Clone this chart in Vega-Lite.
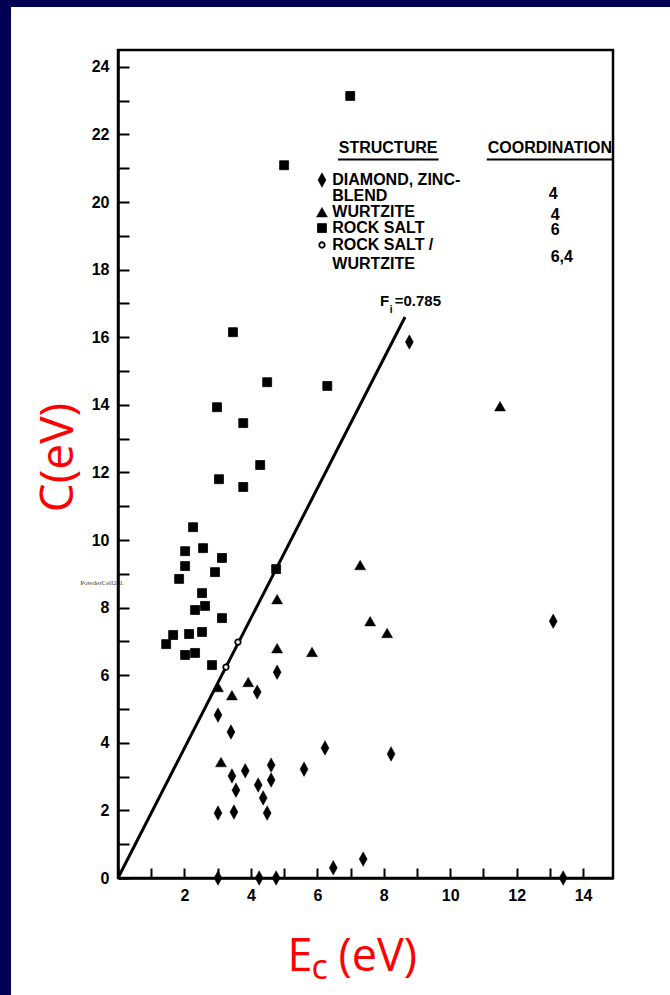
{
  "$schema": "https://vega.github.io/schema/vega-lite/v6.json",
  "width": 495,
  "height": 828,
  "autosize": {"type": "none"},
  "padding": {"left": 118, "top": 50, "right": 57, "bottom": 117},
  "background": "white",
  "config": {
    "view": {"stroke": "black", "strokeWidth": 2.5},
    "axis": {
      "domainColor": "black", "domainWidth": 2.5, "tickColor": "black", "tickWidth": 2,
      "grid": false, "labelFont": "Liberation Sans", "labelFontWeight": "bold", "labelFontSize": 16,
      "labelColor": "black", "labelFlush": false, "labelOverlap": false
    }
  },
  "datasets": {
    "frame": [
      {"x": -4, "x2": -3.22, "y": -4, "y2": 27},
      {"x": -4, "x2": 17, "y": 25.77, "y2": 27}
    ],
    "fit": [{"x": 0, "y": 0}, {"x": 8.64, "y": 16.6}],
    "underlines": [
      {"x": 6.62, "x2": 9.65, "y": 21.26},
      {"x": 11.1, "x2": 14.87, "y": 21.26}
    ],
    "points": [
      {"x": 6.99, "y": 23.14, "structure": "Rock salt"},
      {"x": 5.0, "y": 21.09, "structure": "Rock salt"},
      {"x": 3.46, "y": 16.15, "structure": "Rock salt"},
      {"x": 4.49, "y": 14.67, "structure": "Rock salt"},
      {"x": 6.3, "y": 14.56, "structure": "Rock salt"},
      {"x": 2.98, "y": 13.93, "structure": "Rock salt"},
      {"x": 3.77, "y": 13.46, "structure": "Rock salt"},
      {"x": 4.28, "y": 12.22, "structure": "Rock salt"},
      {"x": 3.04, "y": 11.8, "structure": "Rock salt"},
      {"x": 3.77, "y": 11.57, "structure": "Rock salt"},
      {"x": 2.26, "y": 10.38, "structure": "Rock salt"},
      {"x": 2.02, "y": 9.67, "structure": "Rock salt"},
      {"x": 2.56, "y": 9.76, "structure": "Rock salt"},
      {"x": 2.02, "y": 9.23, "structure": "Rock salt"},
      {"x": 3.13, "y": 9.47, "structure": "Rock salt"},
      {"x": 1.84, "y": 8.85, "structure": "Rock salt"},
      {"x": 2.92, "y": 9.05, "structure": "Rock salt"},
      {"x": 4.76, "y": 9.14, "structure": "Rock salt"},
      {"x": 2.53, "y": 8.43, "structure": "Rock salt"},
      {"x": 2.32, "y": 7.93, "structure": "Rock salt"},
      {"x": 2.62, "y": 8.05, "structure": "Rock salt"},
      {"x": 3.13, "y": 7.69, "structure": "Rock salt"},
      {"x": 1.45, "y": 6.92, "structure": "Rock salt"},
      {"x": 1.66, "y": 7.19, "structure": "Rock salt"},
      {"x": 2.14, "y": 7.22, "structure": "Rock salt"},
      {"x": 2.53, "y": 7.28, "structure": "Rock salt"},
      {"x": 2.02, "y": 6.6, "structure": "Rock salt"},
      {"x": 2.32, "y": 6.66, "structure": "Rock salt"},
      {"x": 2.83, "y": 6.3, "structure": "Rock salt"},
      {"x": 3.61, "y": 6.98, "structure": "Rock salt / wurtzite"},
      {"x": 3.25, "y": 6.24, "structure": "Rock salt / wurtzite"},
      {"x": 4.79, "y": 8.25, "structure": "Wurtzite"},
      {"x": 4.79, "y": 6.8, "structure": "Wurtzite"},
      {"x": 5.84, "y": 6.69, "structure": "Wurtzite"},
      {"x": 3.01, "y": 5.65, "structure": "Wurtzite"},
      {"x": 3.43, "y": 5.41, "structure": "Wurtzite"},
      {"x": 3.92, "y": 5.8, "structure": "Wurtzite"},
      {"x": 11.5, "y": 13.96, "structure": "Wurtzite"},
      {"x": 7.29, "y": 9.26, "structure": "Wurtzite"},
      {"x": 7.59, "y": 7.6, "structure": "Wurtzite"},
      {"x": 8.1, "y": 7.25, "structure": "Wurtzite"},
      {"x": 3.1, "y": 3.43, "structure": "Wurtzite"},
      {"x": 8.77, "y": 15.86, "structure": "Diamond, zinc blende"},
      {"x": 13.1, "y": 7.6, "structure": "Diamond, zinc blende"},
      {"x": 4.79, "y": 6.09, "structure": "Diamond, zinc blende"},
      {"x": 4.19, "y": 5.5, "structure": "Diamond, zinc blende"},
      {"x": 3.01, "y": 4.82, "structure": "Diamond, zinc blende"},
      {"x": 3.4, "y": 4.32, "structure": "Diamond, zinc blende"},
      {"x": 6.23, "y": 3.85, "structure": "Diamond, zinc blende"},
      {"x": 8.22, "y": 3.67, "structure": "Diamond, zinc blende"},
      {"x": 4.61, "y": 3.34, "structure": "Diamond, zinc blende"},
      {"x": 5.6, "y": 3.22, "structure": "Diamond, zinc blende"},
      {"x": 3.83, "y": 3.17, "structure": "Diamond, zinc blende"},
      {"x": 3.43, "y": 3.02, "structure": "Diamond, zinc blende"},
      {"x": 4.22, "y": 2.75, "structure": "Diamond, zinc blende"},
      {"x": 3.55, "y": 2.6, "structure": "Diamond, zinc blende"},
      {"x": 4.61, "y": 2.9, "structure": "Diamond, zinc blende"},
      {"x": 4.37, "y": 2.37, "structure": "Diamond, zinc blende"},
      {"x": 3.01, "y": 1.92, "structure": "Diamond, zinc blende"},
      {"x": 3.49, "y": 1.95, "structure": "Diamond, zinc blende"},
      {"x": 4.49, "y": 1.92, "structure": "Diamond, zinc blende"},
      {"x": 6.48, "y": 0.3, "structure": "Diamond, zinc blende"},
      {"x": 7.38, "y": 0.56, "structure": "Diamond, zinc blende"},
      {"x": 3.01, "y": 0, "structure": "Diamond, zinc blende"},
      {"x": 4.25, "y": 0, "structure": "Diamond, zinc blende"},
      {"x": 4.76, "y": 0, "structure": "Diamond, zinc blende"},
      {"x": 13.4, "y": 0, "structure": "Diamond, zinc blende"},
      {"x": 6.14, "y": 20.65, "structure": "Diamond, zinc blende", "key": true},
      {"x": 6.14, "y": 19.7, "structure": "Wurtzite", "key": true},
      {"x": 6.14, "y": 19.23, "structure": "Rock salt", "key": true},
      {"x": 6.14, "y": 18.73, "structure": "Rock salt / wurtzite", "key": true}
    ],
    "labels": [
      {"x": 8.13, "y": 21.6, "text": "STRUCTURE", "role": "header"},
      {"x": 13.0, "y": 21.6, "text": "COORDINATION", "role": "header"},
      {"x": 6.45, "y": 20.65, "text": "DIAMOND, ZINC-", "role": "entry"},
      {"x": 6.45, "y": 20.18, "text": "BLEND", "role": "entry"},
      {"x": 6.45, "y": 19.7, "text": "WURTZITE", "role": "entry"},
      {"x": 6.45, "y": 19.23, "text": "ROCK SALT", "role": "entry"},
      {"x": 6.45, "y": 18.73, "text": "ROCK SALT /", "role": "entry"},
      {"x": 6.45, "y": 18.17, "text": "WURTZITE", "role": "entry"},
      {"x": 13.1, "y": 20.24, "text": "4", "role": "num"},
      {"x": 13.16, "y": 19.62, "text": "4", "role": "num"},
      {"x": 13.16, "y": 19.17, "text": "6", "role": "num"},
      {"x": 13.36, "y": 18.37, "text": "6,4", "role": "num"},
      {"x": 7.89, "y": 16.92, "text": "F", "role": "fi"},
      {"x": 8.18, "y": 16.72, "text": "i", "role": "fisub"},
      {"x": 8.33, "y": 16.92, "text": "=0.785", "role": "fi"},
      {"x": 5.48, "y": -2.76, "text": "E", "role": "xt"},
      {"x": 6.07, "y": -3.0, "text": "c", "role": "xtsub"},
      {"x": 7.82, "y": -2.76, "text": "(eV)", "role": "xt"},
      {"x": -1.14, "y": 8.73, "text": "PowderCell2.0.", "role": "wm"}
    ]
  },
  "encoding": {
    "x": {
      "field": "x", "type": "quantitative",
      "scale": {"domain": [0, 14.9], "nice": false, "zero": false},
      "axis": {
        "values": [0,1,2,3,4,5,6,7,8,9,10,11,12,13,14],
        "labelExpr": "datum.value % 2 === 0 && datum.value > 0 ? datum.label : ''",
        "tickSize": -10, "labelPadding": 19, "title": null, "zindex": 1
      }
    },
    "y": {
      "field": "y", "type": "quantitative",
      "scale": {"domain": [0, 24.5], "nice": false, "zero": false},
      "axis": {
        "values": [0,1,2,3,4,5,6,7,8,9,10,11,12,13,14,15,16,17,18,19,20,21,22,23,24],
        "labelExpr": "datum.value % 2 === 0 ? datum.label : ''",
        "tickSize": -11, "labelPadding": 20, "zindex": 1,
        "title": "C(eV)", "titleFont": "Open Sans", "titleFontSize": 46, "titleFontWeight": "normal",
        "titleColor": "#ff0000", "titleX": -60, "titleY": 407, "titleAngle": 270,
        "titleAlign": "center", "titleBaseline": "middle"
      }
    }
  },
  "layer": [
    {
      "data": {"name": "frame"},
      "mark": {"type": "rect", "fill": "#000055", "stroke": null},
      "encoding": {"x2": {"field": "x2"}, "y2": {"field": "y2"}}
    },
    {
      "data": {"name": "fit"},
      "mark": {"type": "line", "color": "black", "strokeWidth": 3},
      "encoding": {}
    },
    {
      "data": {"name": "underlines"},
      "mark": {"type": "rule", "color": "black", "strokeWidth": 2},
      "encoding": {"x2": {"field": "x2"}}
    },
    {
      "data": {"name": "points"},
      "mark": {"type": "point", "filled": true, "stroke": "black", "opacity": 1},
      "encoding": {
        "shape": {"field": "structure", "type": "nominal", "legend": null,
          "scale": {"domain": ["Diamond, zinc blende", "Wurtzite", "Rock salt", "Rock salt / wurtzite"],
                    "range": ["M0,-1L0.55,0L0,1L-0.55,0Z", "triangle-up", "square", "circle"]}},
        "fill": {"field": "structure", "type": "nominal", "legend": null,
          "scale": {"domain": ["Diamond, zinc blende", "Wurtzite", "Rock salt", "Rock salt / wurtzite"],
                    "range": ["black", "black", "black", "white"]}},
        "size": {"field": "structure", "type": "nominal", "legend": null,
          "scale": {"type": "ordinal", "domain": ["Diamond, zinc blende", "Wurtzite", "Rock salt", "Rock salt / wurtzite"],
                    "range": [210, 120, 80, 30]}},
        "strokeWidth": {"field": "structure", "type": "nominal", "legend": null,
          "scale": {"type": "ordinal", "domain": ["Diamond, zinc blende", "Wurtzite", "Rock salt", "Rock salt / wurtzite"],
                    "range": [0.5, 0.5, 0.8, 1.8]}}
      }
    },
    {
      "data": {"name": "labels"},
      "transform": [{"filter": "datum.role === 'header'"}],
      "mark": {"type": "text", "align": "center", "baseline": "middle", "font": "Liberation Sans", "fontWeight": "bold", "fontSize": 16, "color": "black"},
      "encoding": {"text": {"field": "text"}}
    },
    {
      "data": {"name": "labels"},
      "transform": [{"filter": "datum.role === 'entry'"}],
      "mark": {"type": "text", "align": "left", "baseline": "middle", "font": "Liberation Sans", "fontWeight": "bold", "fontSize": 16, "color": "black"},
      "encoding": {"text": {"field": "text"}}
    },
    {
      "data": {"name": "labels"},
      "transform": [{"filter": "datum.role === 'num'"}],
      "mark": {"type": "text", "align": "center", "baseline": "middle", "font": "Liberation Sans", "fontWeight": "bold", "fontSize": 16, "color": "black"},
      "encoding": {"text": {"field": "text"}}
    },
    {
      "data": {"name": "labels"},
      "transform": [{"filter": "datum.role === 'fi'"}],
      "mark": {"type": "text", "align": "left", "baseline": "alphabetic", "font": "Liberation Sans", "fontWeight": "bold", "fontSize": 15, "color": "black"},
      "encoding": {"text": {"field": "text"}}
    },
    {
      "data": {"name": "labels"},
      "transform": [{"filter": "datum.role === 'fisub'"}],
      "mark": {"type": "text", "align": "left", "baseline": "alphabetic", "font": "Liberation Sans", "fontWeight": "bold", "fontSize": 10, "color": "black"},
      "encoding": {"text": {"field": "text"}}
    },
    {
      "data": {"name": "labels"},
      "transform": [{"filter": "datum.role === 'xt'"}],
      "mark": {"type": "text", "align": "center", "baseline": "alphabetic", "font": "Open Sans", "fontSize": 45, "color": "#ff0000"},
      "encoding": {"text": {"field": "text"}}
    },
    {
      "data": {"name": "labels"},
      "transform": [{"filter": "datum.role === 'xtsub'"}],
      "mark": {"type": "text", "align": "center", "baseline": "alphabetic", "font": "Open Sans", "fontSize": 34, "color": "#ff0000"},
      "encoding": {"text": {"field": "text"}}
    },
    {
      "data": {"name": "labels"},
      "transform": [{"filter": "datum.role === 'wm'"}],
      "mark": {"type": "text", "align": "left", "baseline": "middle", "font": "Liberation Serif", "fontSize": 7, "color": "#444444"},
      "encoding": {"text": {"field": "text"}}
    }
  ]
}
